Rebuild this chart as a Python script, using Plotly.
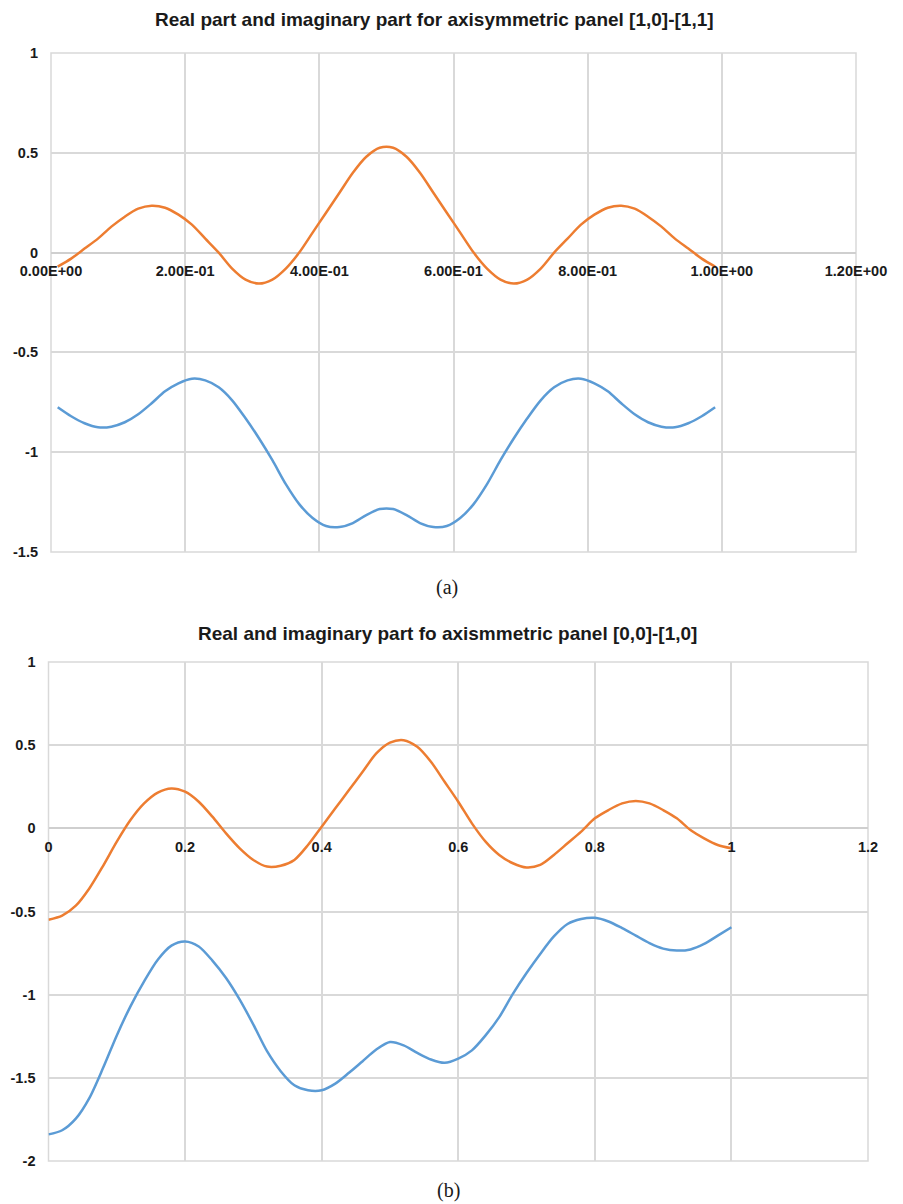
import plotly.graph_objects as go

# ---------------- data ----------------
# Panel (a): axisymmetric panel [1,0]-[1,1]
x_a = [0.01, 0.03, 0.05, 0.07, 0.09, 0.11, 0.13, 0.15, 0.17, 0.19,
       0.21, 0.23, 0.25, 0.27, 0.29, 0.31, 0.33, 0.35, 0.37, 0.39,
       0.41, 0.43, 0.45, 0.47, 0.49, 0.51, 0.53, 0.55, 0.57, 0.59,
       0.61, 0.63, 0.65, 0.67, 0.69, 0.71, 0.73, 0.75, 0.77, 0.79,
       0.81, 0.83, 0.85, 0.87, 0.89, 0.91, 0.93, 0.95, 0.97, 0.99]
real_a = [-0.07, -0.03, 0.02, 0.07, 0.13, 0.18, 0.22, 0.235, 0.225, 0.19,
          0.14, 0.07, 0.0, -0.08, -0.135, -0.155, -0.135, -0.08, 0.0, 0.10,
          0.20, 0.30, 0.40, 0.48, 0.525, 0.525, 0.48, 0.40, 0.30, 0.20,
          0.10, 0.0, -0.08, -0.135, -0.155, -0.135, -0.08, 0.0, 0.07, 0.14,
          0.19, 0.225, 0.235, 0.22, 0.18, 0.13, 0.07, 0.02, -0.03, -0.07]
imag_a = [-0.775, -0.82, -0.855, -0.875, -0.872, -0.85, -0.81, -0.755, -0.695, -0.655,
          -0.632, -0.64, -0.675, -0.74, -0.83, -0.93, -1.04, -1.16, -1.26, -1.33,
          -1.37, -1.375, -1.355, -1.315, -1.285, -1.285, -1.315, -1.355, -1.375, -1.37,
          -1.33, -1.26, -1.16, -1.04, -0.93, -0.83, -0.74, -0.675, -0.64, -0.632,
          -0.655, -0.695, -0.755, -0.81, -0.85, -0.872, -0.875, -0.855, -0.82, -0.775]

# Panel (b): axisymmetric panel [0,0]-[1,0]
x_b = [0.00, 0.02, 0.04, 0.06, 0.08, 0.10, 0.12, 0.14, 0.16, 0.18,
       0.20, 0.22, 0.24, 0.26, 0.28, 0.30, 0.32, 0.34, 0.36, 0.38,
       0.40, 0.42, 0.44, 0.46, 0.48, 0.50, 0.52, 0.54, 0.56, 0.58,
       0.60, 0.62, 0.64, 0.66, 0.68, 0.70, 0.72, 0.74, 0.76, 0.78,
       0.80, 0.82, 0.84, 0.86, 0.88, 0.90, 0.92, 0.94, 0.96, 0.98, 1.00]
real_b = [-0.55, -0.525, -0.465, -0.36, -0.225, -0.08, 0.05, 0.15, 0.215, 0.24,
          0.22, 0.16, 0.07, -0.03, -0.12, -0.19, -0.23, -0.225, -0.19, -0.10,
          0.01, 0.12, 0.23, 0.34, 0.45, 0.515, 0.53, 0.49, 0.40, 0.28,
          0.16, 0.03, -0.08, -0.16, -0.21, -0.235, -0.22, -0.16, -0.09, -0.02,
          0.06, 0.11, 0.15, 0.165, 0.15, 0.11, 0.06, -0.01, -0.06, -0.10, -0.12]
imag_b = [-1.84, -1.815, -1.745, -1.62, -1.44, -1.245, -1.07, -0.92, -0.79, -0.705,
          -0.68, -0.71, -0.795, -0.90, -1.03, -1.18, -1.34, -1.46, -1.545, -1.575,
          -1.575, -1.535, -1.47, -1.40, -1.33, -1.285, -1.305, -1.35, -1.39, -1.41,
          -1.385, -1.335, -1.245, -1.135, -0.995, -0.87, -0.755, -0.65, -0.575, -0.545,
          -0.538, -0.56, -0.60, -0.645, -0.69, -0.723, -0.735, -0.728, -0.695, -0.645, -0.595]

x_ticks = [0, 0.2, 0.4, 0.6, 0.8, 1.0, 1.2]
x_ticklabels_a = ["0.00E+00", "2.00E-01", "4.00E-01", "6.00E-01", "8.00E-01", "1.00E+00", "1.20E+00"]
x_ticklabels_b = ["0", "0.2", "0.4", "0.6", "0.8", "1", "1.2"]
y_ticks_a = [1, 0.5, 0, -0.5, -1, -1.5]
y_ticklabels_a = ["1", "0.5", "0", "-0.5", "-1", "-1.5"]
y_ticks_b = [1, 0.5, 0, -0.5, -1, -1.5, -2]
y_ticklabels_b = ["1", "0.5", "0", "-0.5", "-1", "-1.5", "-2"]

title_a = "Real part and imaginary part for axisymmetric panel [1,0]-[1,1]"
title_b = "Real and imaginary part fo axismmetric panel [0,0]-[1,0]"

# ---------------- styling ----------------
W, H = 903, 1204
OFF = 8  # page body margin in the browser
ORANGE = "#ED7D31"
BLUE = "#5B9BD5"
GRID = "#D9D9D9"
FONT = "Liberation Sans"


def px(v):
    return (v - OFF) / W


def py(v):
    return 1 - (v - OFF) / H


dom_a_x = [px(51), px(856)]
dom_a_y = [py(552), py(53)]
dom_b_x = [px(48.5), px(868)]
dom_b_y = [py(1161), py(662)]
yr_a = [-1.5, 1]
yr_b = [-2, 1]


def zero_pos(dom, rng):
    return dom[0] + (0 - rng[0]) / (rng[1] - rng[0]) * (dom[1] - dom[0])


fig = go.Figure()
line_kw = dict(width=2.5, shape="spline", smoothing=0.8)
fig.add_trace(go.Scatter(x=x_a, y=real_a, mode="lines", line=dict(color=ORANGE, **line_kw),
                         xaxis="x", yaxis="y", showlegend=False))
fig.add_trace(go.Scatter(x=x_a, y=imag_a, mode="lines", line=dict(color=BLUE, **line_kw),
                         xaxis="x", yaxis="y", showlegend=False))
fig.add_trace(go.Scatter(x=x_b, y=real_b, mode="lines", line=dict(color=ORANGE, **line_kw),
                         xaxis="x2", yaxis="y2", showlegend=False))
fig.add_trace(go.Scatter(x=x_b, y=imag_b, mode="lines", line=dict(color=BLUE, **line_kw),
                         xaxis="x2", yaxis="y2", showlegend=False))

tickfont = dict(family=FONT, size=14.5, color="#1a1a1a", weight="bold")

common_x = dict(range=[0, 1.2], tickvals=x_ticks, showgrid=True, gridcolor=GRID, gridwidth=1.5,
                zeroline=False, showline=False, ticks="", tickfont=tickfont, anchor="free",
                ticklabelstandoff=8, fixedrange=True, automargin=False)
common_y = dict(showgrid=True, gridcolor=GRID, gridwidth=1.5, zeroline=True, zerolinecolor="#CFCFCF",
                zerolinewidth=2, showline=False, ticks="", tickfont=tickfont, ticklabelstandoff=12,
                fixedrange=True, automargin=False)

fig.update_layout(
    width=W, height=H,
    margin=dict(l=0, r=0, t=0, b=0, autoexpand=False),
    paper_bgcolor="white", plot_bgcolor="white",
    xaxis=dict(common_x, domain=dom_a_x, ticktext=x_ticklabels_a, position=zero_pos(dom_a_y, yr_a)),
    yaxis=dict(common_y, domain=dom_a_y, range=yr_a, tickvals=y_ticks_a, ticktext=y_ticklabels_a, anchor="x"),
    xaxis2=dict(common_x, domain=dom_b_x, ticktext=x_ticklabels_b, position=zero_pos(dom_b_y, yr_b)),
    yaxis2=dict(common_y, domain=dom_b_y, range=yr_b, tickvals=y_ticks_b, ticktext=y_ticklabels_b, anchor="x2"),
)

# plot-area borders
for xr, yr in [("x domain", "y domain"), ("x2 domain", "y2 domain")]:
    fig.add_shape(type="rect", xref=xr, yref=yr, x0=0, x1=1, y0=0, y1=1,
                  line=dict(color=GRID, width=1.5), layer="below")

# titles and captions
ann_kw = dict(xref="paper", yref="paper", showarrow=False, xanchor="center", yanchor="middle")
fig.add_annotation(text=title_a, x=px(434), y=py(20),
                   font=dict(family=FONT, size=19, color="#1a1a1a", weight="bold"), **ann_kw)
fig.add_annotation(text=title_b, x=px(447), y=py(633),
                   font=dict(family=FONT, size=19, color="#1a1a1a", weight="bold"), **ann_kw)
fig.add_annotation(text="(a)", x=px(447), y=py(588),
                   font=dict(family="Liberation Serif", size=20, color="#1a1a1a"), **ann_kw)
fig.add_annotation(text="(b)", x=px(448), y=py(1190),
                   font=dict(family="Liberation Serif", size=20, color="#1a1a1a"), **ann_kw)

fig.write_html("out.html")
